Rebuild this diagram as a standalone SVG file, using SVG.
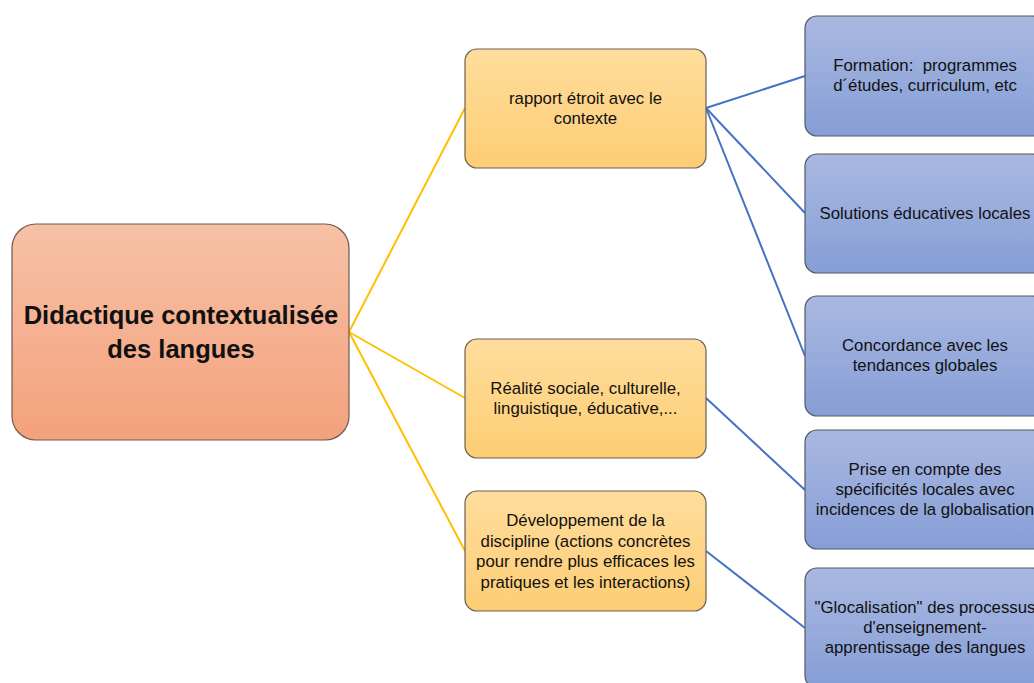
<svg xmlns="http://www.w3.org/2000/svg" width="1034" height="683" viewBox="0 0 1034 683">
<defs>
<linearGradient id="gMain" x1="0" y1="0" x2="0" y2="1"><stop offset="0" stop-color="#F6C1A6"/><stop offset="1" stop-color="#F4A17C"/></linearGradient>
<linearGradient id="gOr" x1="0" y1="0" x2="0" y2="1"><stop offset="0" stop-color="#FFDD9D"/><stop offset="1" stop-color="#FDCD74"/></linearGradient>
<linearGradient id="gBl" x1="0" y1="0" x2="0" y2="1"><stop offset="0" stop-color="#A9B8E1"/><stop offset="1" stop-color="#869ED6"/></linearGradient>
</defs>
<style>
.main{fill:url(#gMain);stroke:#6b5a52;stroke-width:1.2}
.or{fill:url(#gOr);stroke:#6b6152;stroke-width:1.2}
.bl{fill:url(#gBl);stroke:#55595f;stroke-width:1.2}
text{font-family:"Liberation Sans",Arial,sans-serif;font-size:16.8px;fill:#111;text-anchor:middle}
.t1{font-size:25.5px;font-weight:bold}
.y{stroke:#FFC000;stroke-width:2;fill:none}
.b{stroke:#4472C4;stroke-width:2;fill:none}
</style>
<rect width="1034" height="683" fill="#fff"/>
<g id="connectors">
<line class="y" x1="349" y1="332" x2="465" y2="108"/>
<line class="y" x1="349" y1="332" x2="465" y2="398"/>
<line class="y" x1="349" y1="332" x2="465" y2="551"/>
<line class="b" x1="706" y1="108" x2="805" y2="76"/>
<line class="b" x1="706" y1="108" x2="805" y2="213"/>
<line class="b" x1="706" y1="108" x2="805" y2="356"/>
<line class="b" x1="706" y1="398" x2="805" y2="490"/>
<line class="b" x1="706" y1="551" x2="805" y2="628"/>
</g>
<g id="n-main">
<rect class="main" x="12" y="224" width="337" height="216" rx="24"/>
<text class="t1" x="181" y="324">Didactique contextualisée</text>
<text class="t1" x="181" y="358">des langues</text>
</g>
<g id="n-rapport">
<rect class="or" x="465" y="49" width="241" height="119" rx="12"/>
<text x="585.5" y="104">rapport étroit avec le</text>
<text x="585.5" y="124">contexte</text>
</g>
<g id="n-realite">
<rect class="or" x="465" y="339" width="241" height="119" rx="12"/>
<text x="585.5" y="394">Réalité sociale, culturelle,</text>
<text x="585.5" y="414">linguistique, éducative,...</text>
</g>
<g id="n-dev">
<rect class="or" x="465" y="491" width="241" height="120" rx="12"/>
<text x="585.5" y="526">Développement de la</text>
<text x="585.5" y="546.5">discipline (actions concrètes</text>
<text x="585.5" y="567">pour rendre plus efficaces les</text>
<text x="585.5" y="587.5">pratiques et les interactions)</text>
</g>
<g id="n-formation">
<rect class="bl" x="805" y="16" width="240" height="120" rx="12"/>
<text x="925" y="71" style="white-space:pre" xml:space="preserve">Formation:  programmes</text>
<text x="925" y="91">d´études, curriculum, etc</text>
</g>
<g id="n-solutions">
<rect class="bl" x="805" y="154" width="240" height="119" rx="12"/>
<text x="925" y="219">Solutions éducatives locales</text>
</g>
<g id="n-concordance">
<rect class="bl" x="805" y="296" width="240" height="120" rx="12"/>
<text x="925" y="351">Concordance avec les</text>
<text x="925" y="371">tendances globales</text>
</g>
<g id="n-prise">
<rect class="bl" x="805" y="430" width="240" height="119" rx="12"/>
<text x="925" y="475">Prise en compte des</text>
<text x="925" y="495">spécificités locales avec</text>
<text x="925" y="515">incidences de la globalisation</text>
</g>
<g id="n-glocal">
<rect class="bl" x="805" y="568" width="240" height="120" rx="12"/>
<text x="925" y="613">"Glocalisation" des processus</text>
<text x="925" y="633">d'enseignement-</text>
<text x="925" y="653">apprentissage des langues</text>
</g>
</svg>
